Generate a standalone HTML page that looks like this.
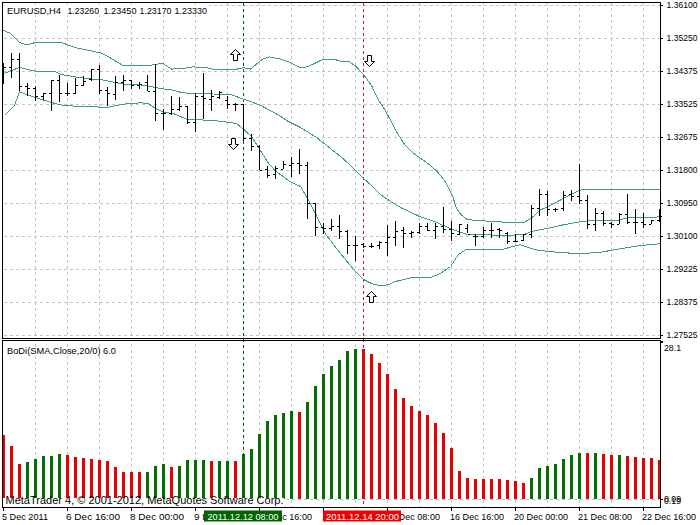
<!DOCTYPE html><html><head><meta charset="utf-8"><style>html,body{margin:0;padding:0;background:#fff;}svg{display:block;}text{font-family:"Liberation Sans",sans-serif;font-size:9px;}</style></head><body>
<svg width="700" height="525" viewBox="0 0 700 525">
<rect x="0" y="0" width="700" height="525" fill="#fff"/>
<path d="M4 5.5H660 M4 38.5H660 M4 71.5H660 M4 104.5H660 M4 137.5H660 M4 170.5H660 M4 203.5H660 M4 236.5H660 M4 269.5H660 M4 302.5H660 M4 335.5H660 M35.5 2V338 M35.5 344V507 M67.5 2V338 M67.5 344V507 M99.5 2V338 M99.5 344V507 M131.5 2V338 M131.5 344V507 M163.5 2V338 M163.5 344V507 M195.5 2V338 M195.5 344V507 M227.5 2V338 M227.5 344V507 M259.5 2V338 M259.5 344V507 M291.5 2V338 M291.5 344V507 M323.5 2V338 M323.5 344V507 M355.5 2V338 M355.5 344V507 M387.5 2V338 M387.5 344V507 M419.5 2V338 M419.5 344V507 M451.5 2V338 M451.5 344V507 M483.5 2V338 M483.5 344V507 M515.5 2V338 M515.5 344V507 M547.5 2V338 M547.5 344V507 M579.5 2V338 M579.5 344V507 M611.5 2V338 M611.5 344V507 M643.5 2V338 M643.5 344V507 M4 499.5H660" stroke="#c4c4c4" stroke-width="1" stroke-dasharray="3 3" fill="none" shape-rendering="crispEdges"/>
<path d="M2 435h3V499h-3z M10 446h3V499h-3z M18 464h3V499h-3z M66 455h3V499h-3z M74 457h3V499h-3z M82 458h3V499h-3z M90 459h3V499h-3z M98 460h3V499h-3z M106 461h3V499h-3z M114 467h3V499h-3z M122 472h3V499h-3z M130 472h3V499h-3z M138 472h3V499h-3z M170 467h3V499h-3z M210 461h3V499h-3z M234 461h3V499h-3z M298 412h3V499h-3z M362 349h3V499h-3z M370 354h3V499h-3z M378 363h3V499h-3z M386 374h3V499h-3z M394 389h3V499h-3z M402 398h3V499h-3z M410 406h3V499h-3z M418 411h3V499h-3z M426 415h3V499h-3z M434 423h3V499h-3z M442 433h3V499h-3z M450 448h3V499h-3z M458 471h3V499h-3z M466 478h3V499h-3z M474 479h3V499h-3z M482 479h3V499h-3z M490 479h3V499h-3z M498 479h3V499h-3z M506 480h3V499h-3z M514 481h3V499h-3z M522 483h3V499h-3z M586 453h3V499h-3z M602 454h3V499h-3z M610 455h3V499h-3z M626 456h3V499h-3z M634 457h3V499h-3z M642 458h3V499h-3z M650 458h3V499h-3z M658 460h3V499h-3z" fill="#e80000" shape-rendering="crispEdges"/>
<path d="M26 462h3V499h-3z M34 459h3V499h-3z M42 456h3V499h-3z M50 456h3V499h-3z M58 454h3V499h-3z M146 472h3V499h-3z M154 466h3V499h-3z M162 464h3V499h-3z M178 466h3V499h-3z M186 460h3V499h-3z M194 460h3V499h-3z M202 460h3V499h-3z M218 461h3V499h-3z M226 461h3V499h-3z M242 454h3V499h-3z M250 449h3V499h-3z M258 434h3V499h-3z M266 421h3V499h-3z M274 415h3V499h-3z M282 413h3V499h-3z M290 411h3V499h-3z M306 402h3V499h-3z M314 386h3V499h-3z M322 374h3V499h-3z M330 366h3V499h-3z M338 360h3V499h-3z M346 351h3V499h-3z M354 349h3V499h-3z M530 478h3V499h-3z M538 468h3V499h-3z M546 466h3V499h-3z M554 464h3V499h-3z M562 459h3V499h-3z M570 455h3V499h-3z M578 453h3V499h-3z M594 453h3V499h-3z M618 455h3V499h-3z" fill="#007000" shape-rendering="crispEdges"/>
<path d="M243.5 3V507" stroke="#006400" stroke-width="1" stroke-dasharray="3 3" shape-rendering="crispEdges"/>
<path d="M363.5 3V507" stroke="#c41c24" stroke-width="1" stroke-dasharray="3 3" shape-rendering="crispEdges"/>
<path d="M2.5 29.8 L10.5 33.4 L19.5 42.5 L26.5 44.8 L35.5 42.5 L61.5 42.6 L75.5 47.6 L100.5 52.9 L106.5 55.5 L123.5 65.8 L148.5 65.8 L155.5 64.1 L163.5 63.8 L171.5 69.1 L182.5 68.5 L192.5 66.9 L206.5 67.6 L212.5 69.1 L235.5 69.5 L243.5 67.6 L250.5 69.1 L262.5 59.1 L269.5 56.9 L280.5 59.1 L288.5 61.9 L300.5 67.6 L307.5 66.9 L323.5 59.1 L333.5 59.1 L340.5 61.2 L348.5 61.2 L355.5 66.0 L363.5 74.5 L371.5 85.5 L378.5 100.1 L384.9 110.0 L387.5 114.5 L396.5 131.7 L405.1 145.3 L411.7 151.9 L419.5 157.6 L427.9 163.4 L437.5 171.9 L445.1 181.5 L452.5 195.7 L456.5 208.4 L460.5 214.1 L466.5 219.1 L475.5 220.5 L490.5 221.2 L500.5 221.9 L512.5 222.8 L523.5 222.8 L531.5 218.1 L540.5 209.8 L547.5 206.9 L563.5 198.4 L579.5 190.1 L591.5 189.3 L659.5 189.3" stroke="#3c9a90" stroke-width="1" fill="none" stroke-linejoin="round" shape-rendering="crispEdges"/>
<path d="M2.5 74.1 L11.5 70.5 L19.5 67.5 L35.5 71.2 L55.5 71.9 L61.5 74.5 L75.5 76.9 L91.5 79.1 L100.5 79.5 L123.5 84.1 L139.5 84.8 L150.5 86.5 L163.5 89.0 L171.5 89.8 L182.5 92.8 L195.5 93.5 L230.5 94.5 L243.5 99.1 L259.5 104.8 L265.5 108.0 L280.5 116.2 L286.5 120.5 L300.5 127.5 L316.5 137.5 L328.5 147.0 L340.5 156.5 L349.5 164.5 L356.5 171.5 L363.5 178.5 L372.5 186.5 L380.5 194.5 L390.5 201.5 L400.5 207.5 L420.5 216.9 L435.5 221.9 L451.5 229.1 L466.5 234.1 L500.5 235.3 L523.5 234.8 L531.5 231.5 L547.5 228.4 L563.5 224.8 L579.5 221.9 L592.5 220.6 L616.5 220.5 L627.5 218.0 L640.5 217.7 L659.5 216.9" stroke="#3c9a90" stroke-width="1" fill="none" stroke-linejoin="round" shape-rendering="crispEdges"/>
<path d="M4.5 115.5 L14.5 105.5 L19.5 91.9 L35.5 97.6 L59.5 104.8 L75.5 106.2 L96.5 106.9 L106.5 107.6 L123.5 104.1 L140.5 102.8 L148.5 103.5 L155.5 108.5 L163.5 111.9 L175.5 114.2 L187.5 119.8 L200.5 119.8 L220.5 121.2 L236.5 123.5 L243.9 129.5 L251.5 136.5 L259.5 149.0 L267.5 162.0 L275.5 171.0 L290.5 181.9 L300.5 186.5 L306.5 196.5 L315.5 213.5 L325.5 234.1 L340.5 253.5 L354.5 270.5 L363.5 279.5 L371.5 283.5 L380.5 285.9 L388.5 284.5 L395.5 281.5 L410.5 277.9 L430.5 277.5 L440.5 273.5 L450.5 266.5 L458.5 254.5 L466.5 249.1 L480.5 249.5 L500.5 249.8 L520.5 244.7 L535.5 249.8 L550.5 251.7 L579.5 253.8 L600.5 252.2 L620.5 248.8 L640.5 245.5 L660.5 243.7" stroke="#3c9a90" stroke-width="1" fill="none" stroke-linejoin="round" shape-rendering="crispEdges"/>
<path d="M3 63h1V84h-1z M4 67h2v1h-2z M11 53h1V78h-1z M9 67h2v1h-2z M12 59h2v1h-2z M19 53h1V91h-1z M17 59h2v1h-2z M20 86h2v1h-2z M27 83h1V96h-1z M25 86h2v1h-2z M28 88h2v1h-2z M35 86h1V101h-1z M33 88h2v1h-2z M36 96h2v1h-2z M43 93h1V100h-1z M41 96h2v1h-2z M44 93h2v1h-2z M51 80h1V111h-1z M49 93h2v1h-2z M52 80h2v1h-2z M59 75h1V102h-1z M57 80h2v1h-2z M60 93h2v1h-2z M67 83h1V96h-1z M65 93h2v1h-2z M68 93h2v1h-2z M75 78h1V94h-1z M73 93h2v1h-2z M76 85h2v1h-2z M83 76h1V86h-1z M81 85h2v1h-2z M84 81h2v1h-2z M91 69h1V81h-1z M89 79h2v1h-2z M92 69h2v1h-2z M99 65h1V94h-1z M97 69h2v1h-2z M100 90h2v1h-2z M107 87h1V106h-1z M105 90h2v1h-2z M108 93h2v1h-2z M115 76h1V100h-1z M113 94h2v1h-2z M116 82h2v1h-2z M123 75h1V91h-1z M121 82h2v1h-2z M124 80h2v1h-2z M131 80h1V89h-1z M129 80h2v1h-2z M132 85h2v1h-2z M139 82h1V89h-1z M137 85h2v1h-2z M140 84h2v1h-2z M147 75h1V91h-1z M145 82h2v1h-2z M148 91h2v1h-2z M155 64h1V121h-1z M153 91h2v1h-2z M156 113h2v1h-2z M163 109h1V130h-1z M161 113h2v1h-2z M164 113h2v1h-2z M171 96h1V115h-1z M169 113h2v1h-2z M172 109h2v1h-2z M179 97h1V111h-1z M177 109h2v1h-2z M180 106h2v1h-2z M187 106h1V124h-1z M185 106h2v1h-2z M188 122h2v1h-2z M195 94h1V132h-1z M193 122h2v1h-2z M196 96h2v1h-2z M203 73h1V119h-1z M201 96h2v1h-2z M204 98h2v1h-2z M211 90h1V111h-1z M209 99h2v1h-2z M212 96h2v1h-2z M219 91h1V99h-1z M217 97h2v1h-2z M220 92h2v1h-2z M227 96h1V109h-1z M225 100h2v1h-2z M228 104h2v1h-2z M235 103h1V111h-1z M233 104h2v1h-2z M236 104h2v1h-2z M243 104h1V141h-1z M241 104h2v1h-2z M244 138h2v1h-2z M251 134h1V151h-1z M249 138h2v1h-2z M252 146h2v1h-2z M259 145h1V170h-1z M257 146h2v1h-2z M260 170h2v1h-2z M267 166h1V178h-1z M265 169h2v1h-2z M268 175h2v1h-2z M275 166h1V179h-1z M273 174h2v1h-2z M276 168h2v1h-2z M283 161h1V169h-1z M281 169h2v1h-2z M284 164h2v1h-2z M291 157h1V177h-1z M289 165h2v1h-2z M292 163h2v1h-2z M299 149h1V174h-1z M297 163h2v1h-2z M300 165h2v1h-2z M307 162h1V219h-1z M305 165h2v1h-2z M308 203h2v1h-2z M315 203h1V236h-1z M313 203h2v1h-2z M316 227h2v1h-2z M323 223h1V234h-1z M321 227h2v1h-2z M324 228h2v1h-2z M331 219h1V231h-1z M329 228h2v1h-2z M332 226h2v1h-2z M339 215h1V239h-1z M337 226h2v1h-2z M340 231h2v1h-2z M347 230h1V254h-1z M345 231h2v1h-2z M348 245h2v1h-2z M355 236h1V261h-1z M353 245h2v1h-2z M356 245h2v1h-2z M363 243h1V248h-1z M361 244h2v1h-2z M364 246h2v1h-2z M371 243h1V248h-1z M369 246h2v1h-2z M372 246h2v1h-2z M379 241h1V249h-1z M377 245h2v1h-2z M380 242h2v1h-2z M387 225h1V256h-1z M385 242h2v1h-2z M388 237h2v1h-2z M395 221h1V246h-1z M393 237h2v1h-2z M396 231h2v1h-2z M403 227h1V248h-1z M401 230h2v1h-2z M404 233h2v1h-2z M411 231h1V238h-1z M409 233h2v1h-2z M412 232h2v1h-2z M419 223h1V234h-1z M417 232h2v1h-2z M420 226h2v1h-2z M427 223h1V231h-1z M425 226h2v1h-2z M428 230h2v1h-2z M435 223h1V239h-1z M433 230h2v1h-2z M436 226h2v1h-2z M443 207h1V233h-1z M441 226h2v1h-2z M444 229h2v1h-2z M451 221h1V241h-1z M449 229h2v1h-2z M452 233h2v1h-2z M459 224h1V235h-1z M457 234h2v1h-2z M460 224h2v1h-2z M467 224h1V233h-1z M465 228h2v1h-2z M468 234h2v1h-2z M475 234h1V246h-1z M473 236h2v1h-2z M476 236h2v1h-2z M483 227h1V238h-1z M481 236h2v1h-2z M484 230h2v1h-2z M491 223h1V238h-1z M489 230h2v1h-2z M492 230h2v1h-2z M499 228h1V238h-1z M497 229h2v1h-2z M500 230h2v1h-2z M507 232h1V244h-1z M505 233h2v1h-2z M508 241h2v1h-2z M515 234h1V242h-1z M513 241h2v1h-2z M516 241h2v1h-2z M523 234h1V241h-1z M521 240h2v1h-2z M524 234h2v1h-2z M531 205h1V238h-1z M529 234h2v1h-2z M532 208h2v1h-2z M539 189h1V216h-1z M537 208h2v1h-2z M540 194h2v1h-2z M547 191h1V216h-1z M545 194h2v1h-2z M548 209h2v1h-2z M555 208h1V212h-1z M553 209h2v1h-2z M556 209h2v1h-2z M563 191h1V211h-1z M561 208h2v1h-2z M564 195h2v1h-2z M571 190h1V201h-1z M569 194h2v1h-2z M572 196h2v1h-2z M579 164h1V204h-1z M577 196h2v1h-2z M580 200h2v1h-2z M587 195h1V229h-1z M585 200h2v1h-2z M588 224h2v1h-2z M595 208h1V231h-1z M593 224h2v1h-2z M596 213h2v1h-2z M603 211h1V226h-1z M601 213h2v1h-2z M604 223h2v1h-2z M611 222h1V228h-1z M609 223h2v1h-2z M612 224h2v1h-2z M619 213h1V224h-1z M617 224h2v1h-2z M620 214h2v1h-2z M627 194h1V224h-1z M625 214h2v1h-2z M628 222h2v1h-2z M635 209h1V234h-1z M633 222h2v1h-2z M636 222h2v1h-2z M643 213h1V228h-1z M641 222h2v1h-2z M644 224h2v1h-2z M651 220h1V224h-1z M649 224h2v1h-2z M652 220h2v1h-2z M659 209h1V222h-1z M657 220h2v1h-2z M660 216h2v1h-2z" fill="#000" shape-rendering="crispEdges"/>
<path d="M235.5 49.5 L230.5 54.5 H233.5 V60.5 H237.5 V54.5 H240.5 Z M233.5 149.5 L228.5 144.5 H231.5 V138.5 H235.5 V144.5 H238.5 Z M369.5 66.5 L364.5 61.5 H367.5 V55.5 H371.5 V61.5 H374.5 Z M371.5 291.5 L366.5 296.5 H369.5 V302.5 H373.5 V296.5 H376.5 Z" fill="#fff" stroke="#000" stroke-width="1"/>
<path d="M2.5 2.5H660.5V338.5H2.5Z M2.5 340.5H660.5V507.5H2.5Z" fill="none" stroke="#000" stroke-width="1" shape-rendering="crispEdges"/>
<path d="M661 5h2v1h-2z M661 38h2v1h-2z M661 71h2v1h-2z M661 104h2v1h-2z M661 137h2v1h-2z M661 170h2v1h-2z M661 203h2v1h-2z M661 236h2v1h-2z M661 269h2v1h-2z M661 302h2v1h-2z M661 335h2v1h-2z M661 341h2v2h-2z M661 499h2v1h-2z M3 508h1v3h-1z M67 508h1v3h-1z M131 508h1v3h-1z M195 508h1v3h-1z M259 508h1v3h-1z M323 508h1v3h-1z M387 508h1v3h-1z M451 508h1v3h-1z M515 508h1v3h-1z M579 508h1v3h-1z M643 508h1v3h-1z" fill="#000" shape-rendering="crispEdges"/>
<rect x="5" y="5" width="204" height="10" fill="#fff"/>
<text x="7" y="14" textLength="54" lengthAdjust="spacingAndGlyphs" fill="#000">EURUSD,H4</text>
<text x="67.5" y="14" textLength="31.5" lengthAdjust="spacingAndGlyphs" fill="#000">1.23260</text>
<text x="103.5" y="14" textLength="33" lengthAdjust="spacingAndGlyphs" fill="#000">1.23450</text>
<text x="139.5" y="14" textLength="32" lengthAdjust="spacingAndGlyphs" fill="#000">1.23170</text>
<text x="174.5" y="14" textLength="32.5" lengthAdjust="spacingAndGlyphs" fill="#000">1.23330</text>
<text x="666.5" y="8" textLength="31" lengthAdjust="spacingAndGlyphs" fill="#000">1.36100</text>
<text x="666.5" y="41" textLength="31" lengthAdjust="spacingAndGlyphs" fill="#000">1.35250</text>
<text x="666.5" y="74" textLength="31" lengthAdjust="spacingAndGlyphs" fill="#000">1.34375</text>
<text x="666.5" y="107" textLength="31" lengthAdjust="spacingAndGlyphs" fill="#000">1.33525</text>
<text x="666.5" y="140" textLength="31" lengthAdjust="spacingAndGlyphs" fill="#000">1.32675</text>
<text x="666.5" y="173" textLength="31" lengthAdjust="spacingAndGlyphs" fill="#000">1.31800</text>
<text x="666.5" y="206" textLength="31" lengthAdjust="spacingAndGlyphs" fill="#000">1.30950</text>
<text x="666.5" y="239" textLength="31" lengthAdjust="spacingAndGlyphs" fill="#000">1.30100</text>
<text x="666.5" y="272" textLength="31" lengthAdjust="spacingAndGlyphs" fill="#000">1.29225</text>
<text x="666.5" y="305" textLength="31" lengthAdjust="spacingAndGlyphs" fill="#000">1.28375</text>
<text x="666.5" y="338" textLength="31" lengthAdjust="spacingAndGlyphs" fill="#000">1.27525</text>
<text x="7" y="354" textLength="109" lengthAdjust="spacingAndGlyphs" fill="#000">BoDi(SMA,Close,20/0) 6.0</text>
<text x="664" y="351" textLength="17" lengthAdjust="spacingAndGlyphs" fill="#000">28.1</text>
<text x="664" y="502" textLength="17" lengthAdjust="spacingAndGlyphs" fill="#000">0.09</text>
<text x="664" y="503.5" textLength="17" lengthAdjust="spacingAndGlyphs" fill="#000">0.19</text>
<rect x="3" y="498" width="281" height="9" fill="#fff"/>
<text x="5.5" y="504" textLength="278" lengthAdjust="spacingAndGlyphs" fill="#000" style="font-size:10.5px">MetaTrader 4, © 2001-2012, MetaQuotes Software Corp.</text>
<text x="2" y="520" textLength="46" lengthAdjust="spacingAndGlyphs" fill="#000">5 Dec 2011</text>
<text x="66" y="520" textLength="54" lengthAdjust="spacingAndGlyphs" fill="#000">6 Dec 16:00</text>
<text x="130" y="520" textLength="54" lengthAdjust="spacingAndGlyphs" fill="#000">8 Dec 00:00</text>
<text x="194" y="520" textLength="54" lengthAdjust="spacingAndGlyphs" fill="#000">9 Dec 08:00</text>
<text x="258" y="520" textLength="54" lengthAdjust="spacingAndGlyphs" fill="#000">12 Dec 16:00</text>
<text x="322" y="520" textLength="54" lengthAdjust="spacingAndGlyphs" fill="#000">14 Dec 00:00</text>
<text x="386" y="520" textLength="54" lengthAdjust="spacingAndGlyphs" fill="#000">15 Dec 08:00</text>
<text x="450" y="520" textLength="54" lengthAdjust="spacingAndGlyphs" fill="#000">16 Dec 16:00</text>
<text x="514" y="520" textLength="54" lengthAdjust="spacingAndGlyphs" fill="#000">20 Dec 00:00</text>
<text x="578" y="520" textLength="54" lengthAdjust="spacingAndGlyphs" fill="#000">21 Dec 08:00</text>
<text x="642" y="520" textLength="54" lengthAdjust="spacingAndGlyphs" fill="#000">22 Dec 16:00</text>
<rect x="204" y="510.5" width="78" height="11" fill="#006400"/>
<text x="207.5" y="520" textLength="71" lengthAdjust="spacingAndGlyphs" fill="#fff">2011.12.12 08:00</text>
<rect x="323" y="510.5" width="78" height="11" fill="#ee0000"/>
<text x="326" y="520" textLength="73" lengthAdjust="spacingAndGlyphs" fill="#fff">2011.12.14 20:00</text>
</svg></body></html>
